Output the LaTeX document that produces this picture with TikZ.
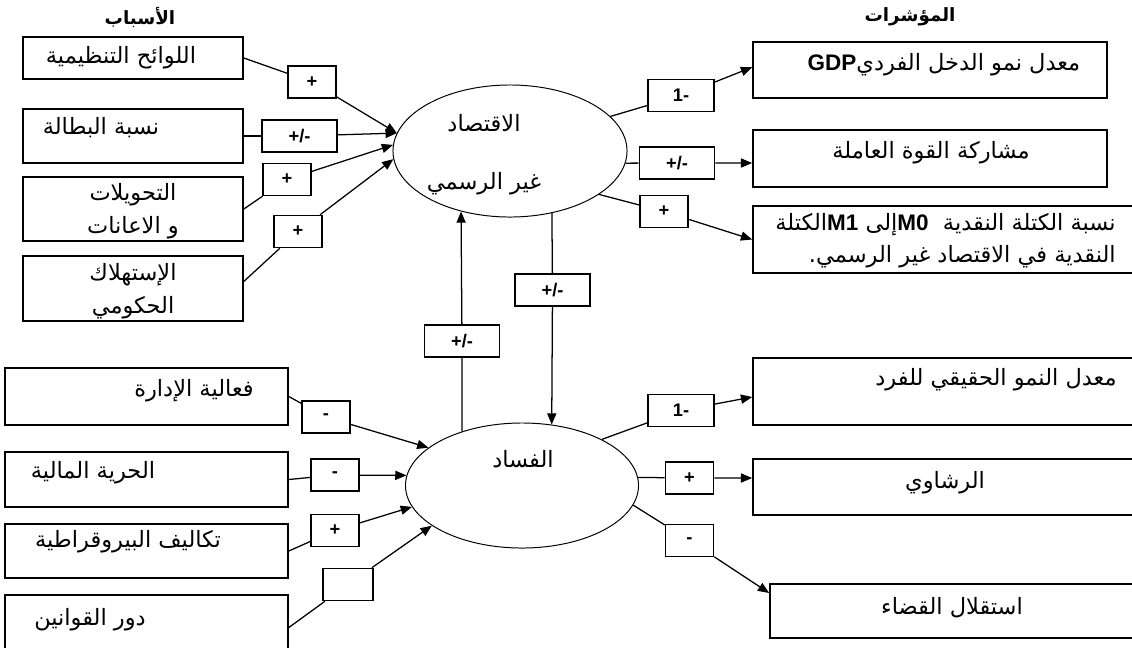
\documentclass[tikz,border=0pt]{standalone}
\usepackage{fontspec}
\setmainfont{DejaVu Sans}
\newfontfamily\arabicfont[Script=Arabic]{DejaVu Sans}
\newfontfamily\latinfont{Liberation Sans}
\TeXXeTstate=1
\usepackage{tikz}
\usetikzlibrary{arrows.meta,positioning,shapes.geometric}

\newcommand{\artxt}[1]{\beginR #1\endR}
\newcommand{\lat}[1]{{\beginL\latinfont\bfseries #1\endL}}

\begin{document}
\begin{tikzpicture}[x=0.025cm,y=-0.025cm,>={Triangle[length=8pt,width=6.5pt]},
  box/.style={draw,rectangle,line width=1.1pt,inner sep=0pt},
  sign/.style={box,minimum width=1.2cm,minimum height=0.8cm,font=\latinfont\bfseries\fontsize{13}{15}\selectfont},
  wsign/.style={sign,minimum width=1.875cm},
  latent/.style={draw,ellipse,line width=0.7pt,inner sep=0pt},
  txt/.style={font=\arabicfont\fontsize{16}{19}\selectfont,inner sep=0pt,align=center},
  head/.style={txt,font=\arabicfont\bfseries\fontsize{13}{15}\selectfont},
  link/.style={line width=0.9pt},
  arr/.style={link,->}]
  \useasboundingbox (0,0) rectangle (1132,647);
  \clip (0,0) rectangle (1132,647);

  % titles
  \node[head] (causes) at (140,17) {\artxt{الأسباب}};
  \node[head] (indic)  at (910,17) {\artxt{المؤشرات}};

  % causes of the informal economy
  \node[box,minimum width=5.5cm,minimum height=1.05cm]  (regs)  at (133,58)    {};
  \node[box,minimum width=5.5cm,minimum height=1.35cm]  (unemp) at (133,136)   {};
  \node[box,minimum width=5.5cm,minimum height=1.6cm]   (trans) at (133,209)   {};
  \node[box,minimum width=5.5cm,minimum height=1.625cm] (govc)  at (133,288.5) {};
  \node[txt] (regst)  at (121,58)    {\artxt{اللوائح التنظيمية}};
  \node[txt] (unempt) at (101,128)   {\artxt{نسبة البطالة}};
  \node[txt] (transt) at (133,211.5) {\artxt{التحويلات}\\[4.4pt]\artxt{و الاعانات}};
  \node[txt] (govct)  at (133,291.5) {\artxt{الإستهلاك}\\[4.4pt]\artxt{الحكومي}};

  % causes of corruption
  \node[box,minimum width=7.075cm,minimum height=1.425cm] (admin)   at (146.5,396.5) {};
  \node[box,minimum width=7.075cm,minimum height=1.375cm] (finfree) at (146.5,479.5) {};
  \node[box,minimum width=7.075cm,minimum height=1.35cm]  (bureau)  at (146.5,551)   {};
  \node[box,minimum width=7.075cm,minimum height=1.625cm] (laws)    at (146.5,627.5) {};
  \node[txt] (admint)   at (194,391) {\artxt{فعالية الإدارة}};
  \node[txt] (finfreet) at (93,473)  {\artxt{الحرية المالية}};
  \node[txt] (bureaut)  at (128,542) {\artxt{تكاليف البيروقراطية}};
  \node[txt] (lawst)    at (90,620)  {\artxt{دور القوانين}};

  % latent variables
  \node[latent,minimum width=5.85cm,minimum height=3.3cm]    (infecon) at (510,151)   {};
  \node[latent,minimum width=5.825cm,minimum height=3.125cm] (corrup)  at (522,485.5) {};
  \node[txt] (infecont) at (484,155) {\artxt{الاقتصاد}\\[22pt]\artxt{غير الرسمي}};
  \node[txt] (corrupt)  at (523,459) {\artxt{الفساد}};

  % indicators
  \node[box,minimum width=8.85cm,minimum height=1.4cm]    (gdp)    at (930,70)    {};
  \node[box,minimum width=8.85cm,minimum height=1.425cm]  (labour) at (930,158.5) {};
  \node[box,minimum width=9.925cm,minimum height=1.675cm] (money)  at (951.5,239.5) {};
  \node[box,minimum width=9.925cm,minimum height=1.675cm] (realgr) at (951.5,391.5) {};
  \node[box,minimum width=9.925cm,minimum height=1.4cm]   (bribes) at (951.5,487) {};
  \node[box,minimum width=9.5cm,minimum height=1.35cm]    (judic)  at (960,611) {};
  \node[txt] (gdpt)    at (944,65)  {\artxt{معدل نمو الدخل الفردي\lat{GDP}}};
  \node[txt] (labourt) at (931,153) {\artxt{مشاركة القوة العاملة}};
  \node[txt,anchor=east,align=right] (moneyt) at (1116,241)
    {\artxt{نسبة الكتلة النقدية\ \ \lat{M0}إلى \lat{M1}الكتلة}\\[3.7pt]\artxt{النقدية في الاقتصاد غير الرسمي.}};
  \node[txt] (realgrt) at (996,380) {\artxt{معدل النمو الحقيقي للفرد}};
  \node[txt] (bribest) at (945,483) {\artxt{الرشاوي}};
  \node[txt] (judict)  at (952,608) {\artxt{استقلال القضاء}};

  % signs
  \node[sign]  (s1) at (312,82)    {+};
  \node[wsign] (s2) at (299.5,136) {+/-};
  \node[sign]  (s3) at (287,179.5) {+};
  \node[sign]  (s4) at (298,231.5) {+};
  \node[sign,minimum width=1.65cm] (t1) at (681,95.5) {1-};
  \node[wsign] (t2) at (677,163)   {+/-};
  \node[sign]  (t3) at (664,211.5) {+};
  \node[wsign] (up)   at (462,341) {+/-};
  \node[wsign] (down) at (552.5,290) {+/-};
  \node[sign]  (k1) at (326,417)   {-};
  \node[sign]  (k2) at (335,475)   {-};
  \node[sign]  (k3) at (335,530.5) {+};
  \node[sign,minimum width=1.25cm] (k4) at (348,584.5) {};
  \node[sign,minimum width=1.65cm] (n1) at (681,410.5) {1-};
  \node[sign]  (n2) at (689.5,478) {+};
  \node[sign]  (n3) at (689.5,540.5) {-};

  % paths into the informal economy
  \draw[link] (regs.east)  -- (s1);  \draw[arr] (s1) -- (infecon.171);
  \draw[link] (unemp.east) -- (s2);  \draw[arr] (s2) -- (infecon.171);
  \draw[link] (trans.east) -- (s3);  \draw[arr] (s3) -- (infecon.177);
  \draw[link] ([yshift=5pt]govc.east) -- (s4); \draw[arr] (s4) -- (infecon.184);

  % paths out of the informal economy
  \draw[link] (infecon.19)  -- (t1); \draw[arr] (t1) -- ([yshift=2pt]gdp.west);
  \draw[link] (infecon.354) -- (t2); \draw[arr] (t2) -- ([yshift=-3.2pt]labour.west);
  \draw[link] (infecon.334) -- (t3); \draw[arr] (t3) -- (money.west);

  % between the two
  \draw[link] (corrup.138)  -- (up);   \draw[arr] (up)   -- (infecon.231);
  \draw[link] (infecon.304) -- (down); \draw[arr] (down) -- (corrup.64);

  % paths into corruption
  \draw[link] (admin.east)   -- (k1); \draw[arr] (k1) -- (corrup.158);
  \draw[link] (finfree.east) -- (k2); \draw[arr] (k2) -- (corrup.175);
  \draw[link] (bureau.east)  -- (k3); \draw[arr] (k3) -- (corrup.191);
  \draw[link] (laws.east)    -- (k4); \draw[arr] (k4) -- (corrup.204);

  % paths out of corruption
  \draw[link] (corrup.30)  -- (n1); \draw[arr] (n1) -- ([yshift=-3.9pt]realgr.west);
  \draw[link] (corrup.4)   -- (n2); \draw[arr] (n2) -- ([yshift=6.4pt]bribes.west);
  \draw[link] (corrup.350) -- (n3); \draw[arr] (n3) -- ([yshift=12.8pt]judic.west);
\end{tikzpicture}
\end{document}
